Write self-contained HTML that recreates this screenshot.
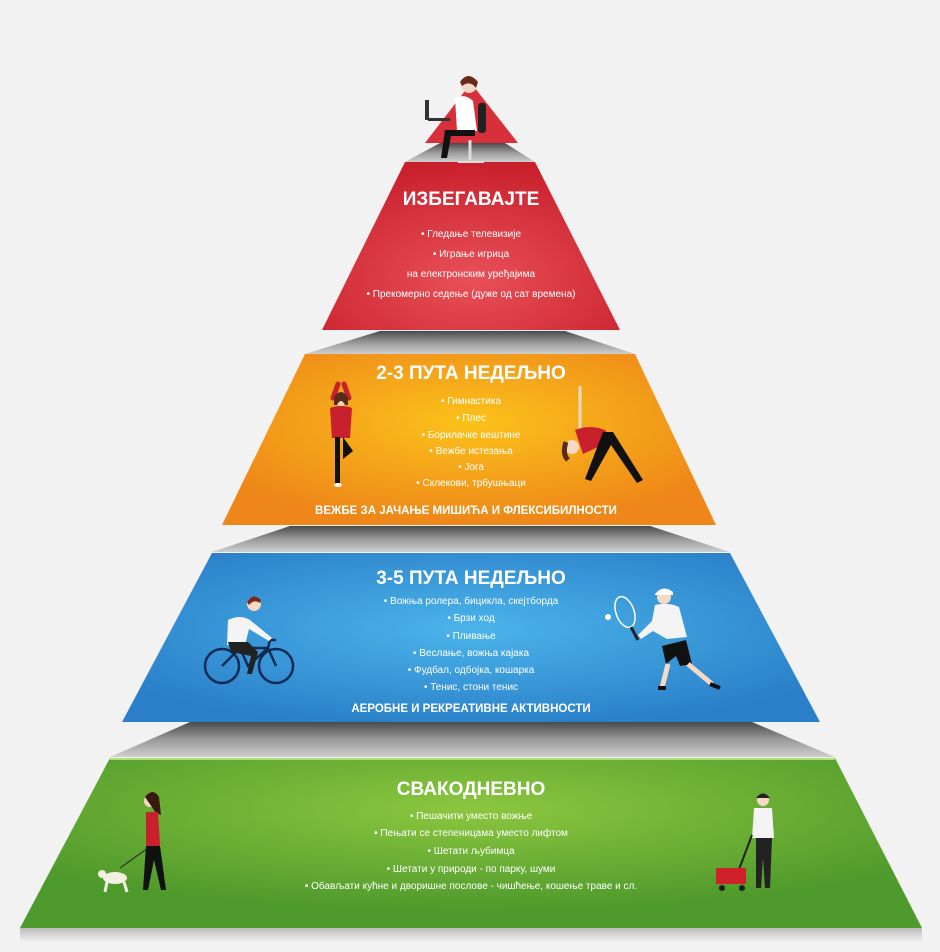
<!DOCTYPE html>
<html><head><meta charset="utf-8"><style>
html,body{margin:0;padding:0;background:#f2f2f2;}
svg{display:block;}
text{font-family:"Liberation Sans",sans-serif;fill:#fff;text-anchor:middle;}
.t{font-weight:bold;font-size:19px;}
.b{font-size:10px;}
.s{font-weight:bold;font-size:11.5px;}
</style></head><body>
<svg width="940" height="952" viewBox="0 0 940 952" xmlns="http://www.w3.org/2000/svg">
<defs>
<linearGradient id="gray" x1="0" y1="0" x2="0" y2="1"><stop offset="0" stop-color="#4a4a4a"/><stop offset="0.5" stop-color="#999"/><stop offset="1" stop-color="#cfcfcf"/></linearGradient>
<radialGradient id="red" cx="0.5" cy="0.7" r="0.7"><stop offset="0" stop-color="#e95058"/><stop offset="1" stop-color="#c8202c"/></radialGradient>
<radialGradient id="org" cx="0.5" cy="0.4" r="0.6"><stop offset="0" stop-color="#fbc21a"/><stop offset="1" stop-color="#ee8619"/></radialGradient>
<radialGradient id="blu" cx="0.5" cy="0.45" r="0.6"><stop offset="0" stop-color="#4bb4ea"/><stop offset="1" stop-color="#2a7fc8"/></radialGradient>
<radialGradient id="grn" cx="0.5" cy="0.3" r="0.6"><stop offset="0" stop-color="#8cc63f"/><stop offset="1" stop-color="#4f9a2c"/></radialGradient>
<linearGradient id="sh" x1="0" y1="0" x2="0" y2="1"><stop offset="0" stop-color="#bbb"/><stop offset="1" stop-color="#f2f2f2"/></linearGradient>
</defs>
<rect width="940" height="952" fill="#f2f2f2"/>
<rect x="20" y="928" width="902" height="14" fill="url(#sh)"/>
<!-- gray steps -->
<polygon points="440,143 505,143 535,162 405,162" fill="url(#gray)"/>
<polygon points="380,331 565,331 635,354 305,354" fill="url(#gray)"/>
<polygon points="290,526 650,526 730,552 212,552" fill="url(#gray)"/>
<polygon points="190,722 752,722 835,757 110,757" fill="url(#gray)"/>
<!-- levels -->
<polygon points="471,83 518,143 425,143" fill="#d8303a"/>
<polygon points="405,162 535,162 620,330 322,330" fill="url(#red)"/>
<polygon points="305,354 635,354 716,525 222,525" fill="url(#org)"/>
<polygon points="212,553 730,553 820,722 122,722" fill="url(#blu)"/>
<polygon points="110,758 835,758 922,928 20,928" fill="url(#grn)"/>
<line x1="110" y1="759" x2="835" y2="759" stroke="#b5dc7a" stroke-width="2"/>

<!-- office figure -->
<g>
<rect x="478" y="103" width="8" height="30" rx="3" fill="#222"/>
<path d="M455 98 q10 -5 18 3 l4 30 l-20 0 z" fill="#fff"/>
<circle cx="469" cy="85" r="8" fill="#f6d9c4"/>
<path d="M460 82 q8 -12 18 0 l-2 6 q-6 -8 -14 -2z" fill="#6b2a1c"/>
<rect x="425" y="100" width="4" height="20" fill="#333"/>
<rect x="428" y="118" width="22" height="3" fill="#333"/>
<path d="M445 130 l30 0 l0 6 l-24 0 l-4 22 l-6 0 z" fill="#111"/>
<line x1="470" y1="140" x2="470" y2="160" stroke="#ddd" stroke-width="3"/>
<line x1="458" y1="162" x2="484" y2="162" stroke="#ddd" stroke-width="2"/>
</g>

<text class="t" x="471" y="205">ИЗБЕГАВАЈТЕ</text>
<text class="b" x="471" y="237">• Гледање телевизије</text>
<text class="b" x="471" y="257">• Играње игрица</text>
<text class="b" x="471" y="277">на електронским уређајима</text>
<text class="b" x="471" y="297">• Прекомерно седење (дуже од сат времена)</text>

<text class="t" x="471" y="379">2-3 ПУТА НЕДЕЉНО</text>
<text class="b" x="471" y="404">• Гимнастика</text>
<text class="b" x="471" y="421">• Плес</text>
<text class="b" x="471" y="438">• Борилачке вештине</text>
<text class="b" x="471" y="454">• Вежбе истезања</text>
<text class="b" x="471" y="470">• Јога</text>
<text class="b" x="471" y="486">• Склекови, трбушњаци</text>
<text class="s" x="466" y="514">ВЕЖБЕ ЗА ЈАЧАЊЕ МИШИЋА И ФЛЕКСИБИЛНОСТИ</text>
<g>
<path d="M333 398 l5 -14 M349 398 l-5 -14" stroke="#c8202c" stroke-width="5" stroke-linecap="round"/>
<circle cx="341" cy="400" r="6" fill="#f6d9c4"/>
<path d="M334 397 q7 -10 14 0 l0 8 l-3 0 q-4 -8 -8 0 l-3 0z" fill="#5a2a1a"/>
<path d="M330 408 q11 -4 22 0 l-2 30 l-18 0 z" fill="#c8202c"/>
<rect x="335" y="437" width="5" height="46" fill="#111"/>
<path d="M343 437 l10 14 l-10 8 z" fill="#111"/>
<ellipse cx="338" cy="485" rx="4" ry="2" fill="#fff"/>
</g>
<g>
<line x1="580" y1="386" x2="580" y2="440" stroke="#f6d9c4" stroke-width="3"/>
<path d="M575 430 q15 -6 30 0 l8 10 l-30 14 z" fill="#c8202c"/>
<circle cx="572" cy="447" r="7" fill="#f6d9c4"/>
<path d="M566 442 q-4 12 2 18" stroke="#5a2a1a" stroke-width="5" fill="none"/>
<path d="M603 432 l10 0 l30 48 l-6 3 l-26 -38 l-20 36 l-6 -2z" fill="#111"/>
</g>

<text class="t" x="471" y="584">3-5 ПУТА НЕДЕЉНО</text>
<text class="b" x="471" y="604">• Вожња ролера, бицикла, скејтборда</text>
<text class="b" x="471" y="621">• Брзи ход</text>
<text class="b" x="471" y="639">• Пливање</text>
<text class="b" x="471" y="656">• Веслање, вожња кајака</text>
<text class="b" x="471" y="673">• Фудбал, одбојка, кошарка</text>
<text class="b" x="471" y="690">• Тенис, стони тенис</text>
<text class="s" x="471" y="712">АЕРОБНЕ И РЕКРЕАТИВНЕ АКТИВНОСТИ</text>
<g fill="none" stroke="#0d2a55" stroke-width="2.5">
<circle cx="222" cy="666" r="17"/><circle cx="276" cy="666" r="17"/>
<path d="M222 666 l18 -18 l28 0 l8 18 M240 648 l8 18 l20 -18 M268 648 l2 -8 l6 0"/>
</g>
<g>
<path d="M228 620 q12 -6 22 0 l22 18 l-3 3 l-20 -12 l-4 16 l-18 0 z" fill="#f4f4f4"/>
<circle cx="254" cy="604" r="7" fill="#f6d9c4"/>
<path d="M247 602 q6 -10 14 -2 l-1 3 q-6 -4 -11 2z" fill="#7a2a1a"/>
<path d="M228 642 l20 0 l10 10 l-6 22 l-5 0 l4 -18 l-20 -4 z" fill="#222"/>
</g>
<g>
<ellipse cx="625" cy="612" rx="9" ry="16" transform="rotate(-20 625 612)" fill="none" stroke="#fff" stroke-width="1.5"/>
<line x1="631" y1="627" x2="638" y2="640" stroke="#222" stroke-width="3"/>
<circle cx="608" cy="617" r="3" fill="#fff"/>
<path d="M655 605 q14 -3 24 2 l8 30 l-20 2 l-14 -8 l-12 8 l-3 -4 l14 -14 z" fill="#f4f4f4"/>
<circle cx="664" cy="597" r="7" fill="#f6d9c4"/>
<path d="M655 594 q8 -10 18 -2 l0 3 l-18 0z" fill="#fff"/>
<path d="M662 646 l24 -6 l6 24 l-12 2 l-4 -10 l-10 8 z" fill="#111"/>
<path d="M668 664 l-6 24 M688 664 l24 20" stroke="#f6d9c4" stroke-width="5"/>
<path d="M658 688 l8 0 M710 684 l10 4" stroke="#111" stroke-width="4"/>
</g>

<text class="t" x="471" y="795">СВАКОДНЕВНО</text>
<text class="b" x="471" y="819">• Пешачити уместо вожње</text>
<text class="b" x="471" y="836">• Пењати се степеницама уместо лифтом</text>
<text class="b" x="471" y="854">• Шетати љубимца</text>
<text class="b" x="471" y="872">• Шетати у природи - по парку, шуми</text>
<text class="b" x="471" y="889">• Обављати кућне и дворишне послове - чишћење, кошење траве и сл.</text>
<g>
<circle cx="150" cy="801" r="6" fill="#f6d9c4"/>
<path d="M145 797 q8 -10 14 0 l2 18 l-5 -2z" fill="#3a1a10"/>
<path d="M146 812 l12 0 l2 34 l-14 0 z" fill="#c8202c"/>
<path d="M146 846 l14 0 l6 44 l-5 0 l-7 -30 l-6 30 l-5 0 z" fill="#111"/>
<line x1="148" y1="848" x2="120" y2="868" stroke="#222" stroke-width="1"/>
<ellipse cx="115" cy="878" rx="12" ry="6" fill="#f4efe3"/>
<circle cx="102" cy="874" r="4" fill="#f4efe3"/>
<path d="M107 882 l-2 10 M124 882 l3 10" stroke="#f4efe3" stroke-width="3"/>
</g>
<g>
<circle cx="763" cy="800" r="6" fill="#f6d9c4"/>
<path d="M756 798 q7 -9 14 0z" fill="#222"/>
<path d="M754 808 l18 0 l2 30 l-22 0 z" fill="#f4f4f4"/>
<path d="M756 838 l16 0 l-2 50 l-5 0 l-2 -30 l-2 30 l-5 0 z" fill="#222"/>
<line x1="752" y1="835" x2="738" y2="872" stroke="#222" stroke-width="2"/>
<rect x="716" y="868" width="30" height="16" fill="#d0202a"/>
<circle cx="722" cy="888" r="3" fill="#222"/><circle cx="742" cy="888" r="3" fill="#222"/>
</g>
</svg>
</body></html>
